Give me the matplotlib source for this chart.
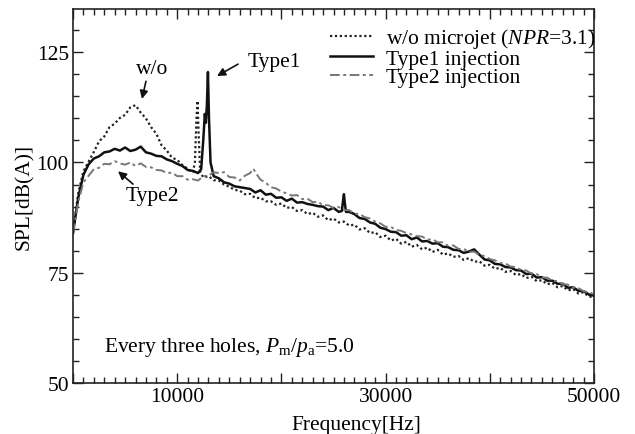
import matplotlib
matplotlib.use("Agg")
import matplotlib.pyplot as plt
from matplotlib.ticker import MultipleLocator, FuncFormatter

plt.rcParams['font.family'] = ['Liberation Serif', 'DejaVu Serif']
plt.rcParams['mathtext.fontset'] = 'custom'
plt.rcParams['mathtext.rm'] = 'Liberation Serif'
plt.rcParams['mathtext.it'] = 'Liberation Serif:italic'

# ---------------- data ----------------
freq_wo = [0, 500, 1000, 1500, 2000, 2500, 3000, 3500, 4000, 4500, 5000, 5500, 6000,
           6500, 7000, 7500, 8000, 8500, 9000, 9500, 10000, 10500, 11000, 11500,
           11700, 11850, 11950, 12050, 12200, 12500, 13000, 13500,
           14000, 14500, 15000, 15500, 16000, 16500, 17000, 17500, 18000, 18500,
           19000, 19500, 20000, 20500, 21000, 21500, 22000, 22500, 23000, 23500,
           24000, 24500, 25000, 25500, 26000, 26500, 27000, 27500, 28000, 28500,
           29000, 29500, 30000, 30500, 31000, 31500, 32000, 32500, 33000, 33500,
           34000, 34500, 35000, 35500, 36000, 36500, 37000, 37500, 38000, 38500,
           39000, 39500, 40000, 40500, 41000, 41500, 42000, 42500, 43000, 43500,
           44000, 44500, 45000, 45500, 46000, 46500, 47000, 47500, 48000, 48500,
           49000, 49500, 50000]
spl_wo = [84.0, 93.0, 98.0, 100.2, 102.4, 104.8, 105.9, 108.0, 108.8, 110.1, 110.8, 112.5, 113.0,
          111.3, 110.0, 108.0, 106.5, 103.9, 102.7, 101.1, 100.6, 99.4, 98.6, 97.7,
          100.0, 110.0, 114.0, 107.0, 98.0, 96.6, 96.9, 96.0,
          95.9, 95.0, 94.5, 93.8, 93.6, 92.8, 92.9, 91.9, 92.0, 91.2,
          91.2, 90.4, 90.7, 89.7, 89.9, 89.0, 89.2, 88.3, 88.6, 87.7,
          88.0, 86.9, 87.3, 86.4, 86.6, 85.7, 85.9, 84.8, 85.1, 84.0,
          84.2, 83.1, 83.4, 82.3, 82.7, 81.6, 82.0, 80.9, 81.3, 80.3,
          80.7, 79.7, 80.2, 79.1, 79.4, 78.6, 78.8, 77.9, 78.3, 77.5,
          77.6, 76.6, 76.8, 75.9, 76.1, 75.2, 75.4, 74.5, 74.7, 73.8,
          74.1, 73.1, 73.3, 72.4, 72.7, 71.7, 72.0, 71.0, 71.3, 70.3,
          70.6, 69.6, 69.5]

freq_t1 = [0, 500, 1000, 1500, 2000, 2500, 3000, 3500, 4000, 4500, 5000, 5500, 6000,
           6500, 7000, 7500, 8000, 8500, 9000, 9500, 10000, 10500, 11000, 11500,
           12000, 12300, 12500, 12650, 12750, 12850, 12950, 13050, 13200, 13500,
           14000, 14500, 15000, 15500, 16000, 16500, 17000, 17500, 18000, 18500,
           19000, 19500, 20000, 20500, 21000, 21500, 22000, 22500, 23000, 23500,
           24000, 24500, 25000, 25500, 25800, 25900, 26000, 26100, 26200, 26500,
           27000, 27500, 28000, 28500, 29000, 29500, 30000, 30500, 31000, 31500,
           32000, 32500, 33000, 33500, 34000, 34500, 35000, 35500, 36000, 36500,
           37000, 37500, 38000, 38500, 39000, 39500, 40000, 40500, 41000, 41500,
           42000, 42500, 43000, 43500, 44000, 44500, 45000, 45500, 46000, 46500,
           47000, 47500, 48000, 48500, 49000, 49500, 50000]
spl_t1 = [84.0, 92.0, 97.2, 99.6, 100.9, 101.4, 102.3, 102.5, 103.1, 102.7, 103.4, 102.6, 102.9,
          103.6, 102.3, 102.0, 101.5, 101.4, 100.7, 100.3, 99.7, 99.2, 98.3, 98.1,
          97.6, 98.5, 105.0, 111.0, 109.0, 113.0, 120.5, 110.0, 100.0, 96.9,
          96.4, 95.5, 95.2, 94.6, 94.4, 94.2, 94.0, 93.2, 93.7, 92.7,
          92.9, 92.0, 92.1, 91.3, 91.8, 90.9, 91.0, 90.6, 90.4, 90.1,
          90.0, 89.2, 89.7, 88.8, 89.0, 91.0, 92.8, 90.5, 88.8, 88.8,
          88.3, 87.4, 87.2, 86.4, 86.1, 85.2, 84.9, 84.3, 84.2, 83.4,
          83.5, 82.6, 83.0, 82.1, 82.2, 81.6, 81.7, 80.9, 80.8, 80.2,
          80.1, 79.5, 79.8, 80.3, 79.1, 78.0, 77.8, 77.0, 76.9, 76.3,
          76.2, 75.6, 75.5, 74.7, 74.8, 73.9, 74.0, 73.2, 73.2, 72.5,
          72.5, 71.6, 71.7, 70.9, 70.8, 70.1, 69.8]

freq_t2 = [0, 500, 1000, 1500, 2000, 2500, 3000, 3500, 4000, 4500, 5000, 5500, 6000,
           6500, 7000, 7500, 8000, 8500, 9000, 9500, 10000, 10500, 11000, 11500,
           12000, 12500, 13000, 13500,
           14000, 14500, 15000, 15500, 16000, 16500, 17000, 17300, 17600, 18000,
           18500, 19000, 19500, 20000, 20500, 21000, 21500, 22000, 22500, 23000,
           23500, 24000, 24500, 25000, 25500, 26000, 26500, 27000, 27500, 28000,
           28500, 29000, 29500, 30000, 30500, 31000, 31500, 32000, 32500, 33000,
           33500, 34000, 34500, 35000, 35500, 36000, 36500, 37000, 37500, 38000,
           38500, 39000, 39500, 40000, 40500, 41000, 41500, 42000, 42500, 43000,
           43500, 44000, 44500, 45000, 45500, 46000, 46500, 47000, 47500, 48000,
           48500, 49000, 49500, 50000]
spl_t2 = [84.0, 91.0, 95.5, 97.0, 98.5, 98.8, 99.7, 99.6, 100.3, 99.8, 99.5, 100.0, 99.2,
          99.8, 99.0, 98.9, 98.3, 98.2, 97.6, 97.7, 96.9, 96.9, 96.1, 96.2,
          95.9, 96.9, 97.0, 97.8,
          97.6, 97.8, 96.7, 96.6, 95.9, 97.0, 97.6, 98.6, 97.4, 96.1,
          95.4, 94.4, 94.1, 93.4, 93.0, 92.5, 92.6, 91.7, 91.8, 91.0,
          91.1, 90.3, 90.3, 89.7, 89.9, 89.2, 89.2, 88.4, 88.3, 87.6,
          87.3, 86.6, 86.2, 85.4, 85.4, 84.7, 84.5, 84.0, 83.7, 83.3,
          83.2, 82.5, 82.6, 81.9, 81.9, 81.1, 81.2, 80.4, 80.4, 79.7,
          79.8, 79.0, 78.8, 78.1, 77.8, 77.2, 77.1, 76.4, 76.3, 75.6,
          75.5, 74.8, 74.7, 73.9, 73.9, 73.2, 73.1, 72.4, 72.3, 71.6,
          71.5, 70.8, 70.6, 70.1]

labels = ['w/o microjet ($\\mathit{NPR}$=3.1)', 'Type1 injection', 'Type2 injection']
x_major = [0, 10000, 20000, 30000, 40000, 50000]
x_labelled = [10000, 30000, 50000]
y_ticks = [50, 75, 100, 125]

FS = 15.5

# ---------------- figure ----------------
fig = plt.figure(figsize=(6.35, 4.35), dpi=100)
ax = fig.add_axes([73/635, 1 - 384/435, 521/635, 374/435])

ax.plot(freq_wo, spl_wo, color='#222222', ls=(0, (1, 1.2)), lw=1.6, label=labels[0])
ax.plot(freq_t1, spl_t1, color='#111111', ls='-', lw=1.8, label=labels[1])
ax.plot(freq_t2, spl_t2, color='#777777', ls=(0, (5, 1.8, 1.5, 1.8)), lw=1.4, label=labels[2])

ax.set_xlim(0, 50000)
ax.set_ylim(50, 134.8)
ax.set_xticks(x_major)
ax.xaxis.set_major_formatter(FuncFormatter(lambda v, p: f'{int(v)}' if int(v) in x_labelled else ''))
ax.xaxis.set_minor_locator(MultipleLocator(1000))
ax.set_yticks(y_ticks)
ax.yaxis.set_minor_locator(MultipleLocator(5))
ax.tick_params(which='both', direction='in', top=True, right=True, labelsize=FS,
               width=1.0, color='#222222')
ax.tick_params(which='major', length=7, pad=3)
ax.tick_params(which='minor', length=4)
for s in ax.spines.values():
    s.set_linewidth(1.2)
    s.set_color('#222222')

ax.set_xlabel('Frequency[Hz]', fontsize=FS, labelpad=1)
ax.xaxis.set_label_coords(0.543, -0.085)
ax.set_ylabel('SPL[dB(A)]', fontsize=FS, labelpad=2)

leg = ax.legend(loc='upper left', bbox_to_anchor=(0.468, 0.988), frameon=False,
                fontsize=FS, handlelength=2.0, handletextpad=0.6,
                labelspacing=-0.075, borderaxespad=0.2)

arrow_kw = dict(arrowstyle='-|>', color='#111111', lw=1.2, shrinkA=0, shrinkB=0,
                mutation_scale=12)
# w/o
ax.annotate('', xy=(6620, 114.4), xytext=(7000, 118.4), arrowprops=arrow_kw)
ax.text(7580, 121.4, 'w/o', fontsize=FS, ha='center', va='center')
# Type1
ax.annotate('', xy=(13820, 119.6), xytext=(15840, 122.3), arrowprops=arrow_kw)
ax.text(19290, 123.0, 'Type1', fontsize=FS, ha='center', va='center')
# Type2
ax.annotate('', xy=(4320, 98.0), xytext=(5760, 95.1), arrowprops=arrow_kw)
ax.text(7600, 92.4, 'Type2', fontsize=FS, ha='center', va='center')

ax.text(3000, 58.3, 'Every three holes, $P_{\\mathrm{m}}/p_{\\mathrm{a}}$=5.0', fontsize=FS,
        ha='left', va='center')

fig.savefig('out.png', dpi=100)
